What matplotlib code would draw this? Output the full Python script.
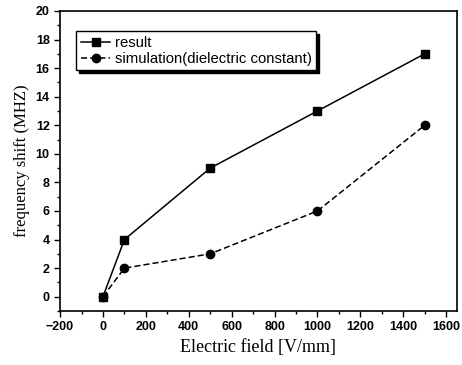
import matplotlib
matplotlib.use("Agg")
import matplotlib.pyplot as plt
from matplotlib.ticker import MultipleLocator

field = [0, 100, 500, 1000, 1500]
result = [0, 4, 9, 13, 17]
simulation = [0, 2, 3, 6, 12]

fig = plt.figure(figsize=(4.62, 3.65), dpi=100)
ax = fig.add_axes([0.130, 0.148, 0.859, 0.822])

ax.plot(field, result, color='black', linewidth=1.1, marker='s', markersize=6,
        label='result')
ax.plot(field, simulation, color='black', linewidth=1.1, linestyle=(0, (4, 2)),
        marker='o', markersize=6, label='simulation(dielectric constant)')

ax.set_xlim(-200, 1650)
ax.set_ylim(-1, 20)
ax.xaxis.set_major_locator(MultipleLocator(200))
ax.xaxis.set_minor_locator(MultipleLocator(100))
ax.yaxis.set_major_locator(MultipleLocator(2))
ax.yaxis.set_minor_locator(MultipleLocator(1))
ax.tick_params(which='both', direction='out', width=1)
ax.tick_params(which='major', length=4, labelsize=9)
ax.tick_params(which='minor', length=2)
for lab in ax.get_xticklabels() + ax.get_yticklabels():
    lab.set_family('Liberation Sans')
    lab.set_weight('bold')
for s in ax.spines.values():
    s.set_linewidth(1.2)

ax.set_xlabel('Electric field [V/mm]', family='Liberation Serif', fontsize=13)
ax.set_ylabel('frequency shift (MHZ)', family='Liberation Serif', fontsize=12)

leg = ax.legend(loc='upper left', bbox_to_anchor=(0.022, 0.957), fancybox=False,
                shadow={'color': 'black', 'alpha': 1, 'ox': 2, 'oy': -2},
                edgecolor='black', framealpha=1,
                prop={'family': 'Liberation Sans', 'size': 10.7}, handlelength=2,
                borderpad=0.3, labelspacing=0.15, handletextpad=0.3)
leg.get_frame().set_linewidth(1.0)

fig.savefig('out.png', dpi=100)
